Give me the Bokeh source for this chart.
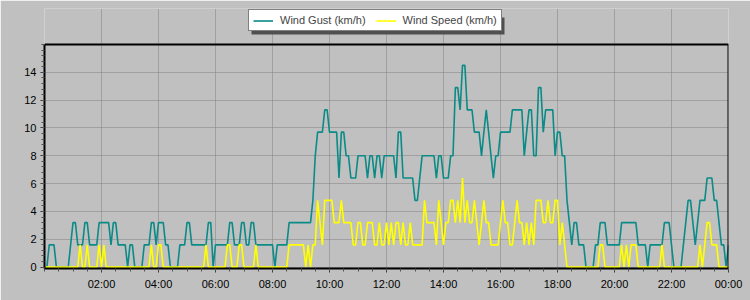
import pandas as pd
from bokeh.plotting import figure
from bokeh.models import (FixedTicker, DatetimeTickFormatter, Legend, LegendItem,
                          Range1d, BoxAnnotation)
from bokeh.embed import file_html
from bokeh.resources import INLINE

# 5-minute samples from 00:00 to 00:00 next day (km/h)
gust = [
    0, 0, 1.6, 1.6, 1.6, 0, 0, 0, 0, 0,
    0, 1.6, 3.2, 3.2, 1.6, 1.6, 1.6, 3.2, 3.2, 1.6,
    1.6, 1.6, 1.6, 3.2, 3.2, 3.2, 3.2, 3.2, 1.6, 3.2,
    3.2, 1.6, 1.6, 1.6, 1.6, 0, 1.6, 1.6, 0, 0,
    0, 0, 1.6, 1.6, 1.6, 3.2, 3.2, 1.6, 3.2, 3.2,
    3.2, 1.6, 1.6, 0, 0, 0, 0, 1.6, 1.6, 1.6,
    3.2, 3.2, 1.6, 1.6, 1.6, 1.6, 1.6, 1.6, 1.6, 3.2,
    3.2, 0, 1.6, 1.6, 1.6, 1.6, 1.6, 1.6, 3.2, 3.2,
    1.6, 1.6, 1.6, 3.2, 3.2, 1.6, 1.6, 3.2, 3.2, 1.6,
    1.6, 1.6, 1.6, 1.6, 1.6, 1.6, 1.6, 0, 1.6, 1.6,
    1.6, 1.6, 1.6, 3.2, 3.2, 3.2, 3.2, 3.2, 3.2, 3.2,
    3.2, 3.2, 3.2, 4.8, 8.0, 9.7, 9.7, 9.7, 11.3, 11.3,
    9.7, 9.7, 9.7, 9.7, 6.4, 9.7, 9.7, 8.0, 8.0, 6.4,
    6.4, 6.4, 8.0, 8.0, 8.0, 8.0, 6.4, 8.0, 8.0, 6.4,
    8.0, 8.0, 6.4, 8.0, 8.0, 8.0, 8.0, 8.0, 6.4, 9.7,
    9.7, 6.4, 6.4, 6.4, 6.4, 6.4, 4.8, 4.8, 6.4, 8.0,
    8.0, 8.0, 8.0, 8.0, 8.0, 6.4, 8.0, 8.0, 6.4, 6.4,
    6.4, 8.0, 8.0, 12.9, 12.9, 11.3, 14.5, 14.5, 11.3, 11.3,
    11.3, 9.7, 9.7, 9.7, 8.0, 9.7, 11.3, 9.7, 8.0, 6.4,
    8.0, 8.0, 9.7, 9.7, 9.7, 9.7, 9.7, 11.3, 11.3, 11.3,
    11.3, 11.3, 8.0, 9.7, 11.3, 11.3, 8.0, 8.0, 12.9, 12.9,
    9.7, 11.3, 11.3, 11.3, 11.3, 8.0, 9.7, 9.7, 8.0, 8.0,
    4.8, 3.2, 1.6, 3.2, 3.2, 1.6, 1.6, 1.6, 0, 0,
    0, 0, 1.6, 1.6, 3.2, 3.2, 3.2, 1.6, 1.6, 1.6,
    1.6, 1.6, 1.6, 3.2, 3.2, 3.2, 3.2, 3.2, 3.2, 3.2,
    1.6, 1.6, 1.6, 1.6, 0, 1.6, 1.6, 1.6, 1.6, 1.6,
    1.6, 3.2, 3.2, 3.2, 1.6, 0, 0, 0, 0, 1.6,
    3.2, 4.8, 4.8, 3.2, 1.6, 3.2, 4.8, 4.8, 4.8, 6.4,
    6.4, 6.4, 4.8, 4.8, 3.2, 1.6, 1.6, 0, 1.6,
]

speed = [
    0, 0, 0, 0, 0, 0, 0, 0, 0, 0,
    0, 0, 0, 0, 0, 1.6, 0, 0, 1.6, 0,
    0, 0, 0, 1.6, 0, 1.6, 0, 0, 0, 0,
    0, 0, 0, 0, 0, 0, 0, 0, 0, 0,
    0, 0, 0, 0, 0, 1.6, 0, 0, 1.6, 1.6,
    0, 0, 0, 0, 0, 0, 0, 0, 0, 0,
    0, 0, 0, 0, 0, 0, 0, 0, 1.6, 0,
    0, 0, 0, 0, 0, 0, 0, 1.6, 1.6, 0,
    0, 0, 1.6, 1.6, 0, 0, 0, 0, 0, 1.6,
    0, 0, 0, 0, 0, 0, 0, 0, 0, 0,
    0, 0, 0, 1.6, 1.6, 1.6, 1.6, 1.6, 1.6, 1.6,
    0, 1.6, 0, 1.6, 1.6, 4.8, 3.2, 1.6, 4.8, 4.8,
    4.8, 4.8, 3.2, 3.2, 3.2, 4.8, 3.2, 3.2, 3.2, 3.2,
    1.6, 1.6, 3.2, 3.2, 1.6, 1.6, 3.2, 3.2, 3.2, 1.6,
    1.6, 3.2, 1.6, 1.6, 3.2, 1.6, 3.2, 1.6, 3.2, 3.2,
    1.6, 3.2, 1.6, 1.6, 3.2, 1.6, 1.6, 1.6, 1.6, 1.6,
    4.8, 3.2, 3.2, 3.2, 3.2, 1.6, 4.8, 3.2, 1.6, 3.2,
    3.2, 4.8, 4.8, 3.2, 4.8, 3.2, 6.4, 3.2, 4.8, 3.2,
    3.2, 4.8, 3.2, 1.6, 3.2, 4.8, 3.2, 3.2, 1.6, 1.6,
    1.6, 1.6, 3.2, 4.8, 3.2, 3.2, 1.6, 1.6, 3.2, 4.8,
    3.2, 3.2, 1.6, 3.2, 1.6, 3.2, 1.6, 4.8, 4.8, 4.8,
    3.2, 3.2, 4.8, 3.2, 3.2, 4.8, 4.8, 1.6, 3.2, 1.6,
    0, 0, 0, 0, 0, 0, 0, 0, 0, 0,
    0, 0, 0, 0, 1.6, 1.6, 0, 0, 0, 0,
    0, 0, 0, 1.6, 0, 1.6, 0, 1.6, 1.6, 1.6,
    0, 0, 0, 0, 0, 0, 0, 0, 0, 0,
    1.6, 0, 0, 0, 0, 0, 0, 0, 0, 0,
    0, 0, 0, 0, 0, 0, 1.6, 0, 1.6, 3.2,
    3.2, 1.6, 1.6, 1.6, 0, 0, 0, 0, 0,
]

day_start = pd.Timestamp("2024-01-01 00:00")
times = pd.date_range(day_start, periods=len(gust), freq="5min")

tick_hours = [2, 4, 6, 8, 10, 12, 14, 16, 18, 20, 22, 24]
y_ticks = [0, 2, 4, 6, 8, 10, 12, 14]
series_labels = ["Wind Gust (km/h)", "Wind Speed (km/h)"]

FONT = "Liberation Sans"
Y_MIN, Y_MAX = -0.1, 16.0
# the frame also covers the strip above the plot where the legend sits
FRAME_TOP, PLOT_TOP, FRAME_BOTTOM = 8, 44, 268
px_per_unit = (FRAME_BOTTOM - PLOT_TOP) / (Y_MAX - Y_MIN)
Y_FRAME_MAX = Y_MAX + (PLOT_TOP - FRAME_TOP) / px_per_unit


def ms(h):
    return (day_start + pd.Timedelta(hours=h)).timestamp() * 1000.0


p = figure(width=750, height=300, x_axis_type="datetime",
           output_backend="svg", toolbar_location=None,
           x_range=Range1d(ms(0), ms(24)), y_range=Range1d(Y_MIN, Y_FRAME_MAX),
           min_border_left=44, min_border_right=22,
           min_border_top=FRAME_TOP, min_border_bottom=300 - FRAME_BOTTOM)

p.background_fill_color = "#c0c0c0"
p.border_fill_color = "#c0c0c0"
p.outline_line_color = None

r_gust = p.line(times, gust, line_color="#0b8b87", line_width=1.6)
r_speed = p.line(times, speed, line_color="#ffff00", line_width=1.6)

# top and right border of the plot box
p.line([ms(0), ms(24), ms(24)], [Y_MAX, Y_MAX, Y_MIN], line_color="black",
       line_width=2)

# x axis
p.xaxis.ticker = FixedTicker(ticks=[ms(h) for h in tick_hours],
                             minor_ticks=[ms(h / 2) for h in range(0, 49)])
p.xaxis.formatter = DatetimeTickFormatter(
    milliseconds="%H:%M", seconds="%H:%M", minsec="%H:%M", minutes="%H:%M",
    hourmin="%H:%M", hours="%H:%M", days="%H:%M", months="%H:%M", years="%H:%M")
# y axis
p.yaxis.ticker = FixedTicker(ticks=y_ticks,
                             minor_ticks=[k * 0.4 for k in range(0, 41)])
p.yaxis.bounds = (Y_MIN, Y_MAX)

for ax in (p.xaxis[0], p.yaxis[0]):
    ax.axis_line_color = "black"
    ax.axis_line_width = 2
    ax.major_tick_line_color = "#303030"
    ax.minor_tick_line_color = "#505050"
    ax.major_tick_in = 0
    ax.minor_tick_in = 0
    ax.major_tick_out = 4
    ax.minor_tick_out = 3
    ax.major_label_text_font = FONT
    ax.major_label_text_font_size = "11px"
    ax.major_label_text_color = "black"
p.xaxis.major_label_standoff = 5
p.yaxis.major_label_standoff = 4

p.xgrid.ticker = FixedTicker(ticks=[ms(h) for h in tick_hours])
p.xgrid.bounds = (Y_MIN, Y_MAX)
p.ygrid.ticker = FixedTicker(ticks=y_ticks)
for g in (p.xgrid[0], p.ygrid[0]):
    g.grid_line_color = "#808080"
    g.grid_line_dash = "1 1"
    g.grid_line_width = 1

shadow = BoxAnnotation(left=251, right=504, top=17, bottom=34,
                       left_units="canvas", right_units="canvas",
                       top_units="canvas", bottom_units="canvas",
                       fill_color="#505050", fill_alpha=1, line_alpha=0)
p.add_layout(shadow)

legend = Legend(items=[LegendItem(label=series_labels[0], renderers=[r_gust]),
                       LegendItem(label=series_labels[1], renderers=[r_speed])],
                orientation="horizontal", location=(204, FRAME_BOTTOM - 31),
                margin=0, padding=4, spacing=10, glyph_width=20, glyph_height=9,
                label_height=9, label_standoff=7,
                label_text_font=FONT, label_text_font_size="11px",
                border_line_color="black", border_line_width=1,
                background_fill_color="white", background_fill_alpha=1)
p.add_layout(legend, "center")

open("out.html", "w").write(file_html(p, INLINE))
